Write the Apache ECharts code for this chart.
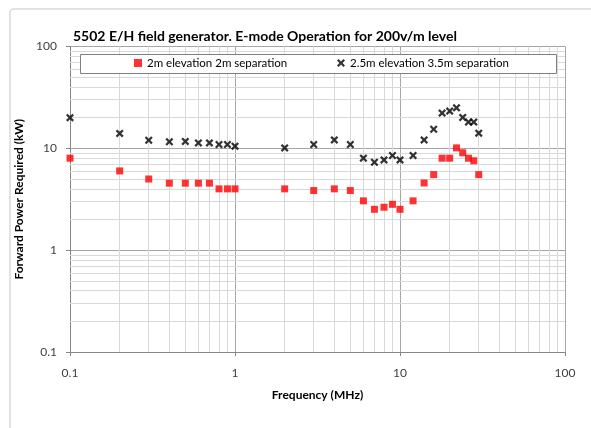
<!DOCTYPE html>
<html><head><meta charset="utf-8">
<script src="https://cdn.jsdelivr.net/npm/echarts@6/dist/echarts.min.js"></script>
<style>html,body{margin:0;padding:0;background:#fff}#c{width:591px;height:428px}</style>
</head><body><div id="c"></div>
<script>
const titleText = '5502 E/H field generator. E-mode Operation for 200v/m level';
const xTitle = 'Frequency (MHz)';
const yTitle = 'Forward Power Required (kW)';
const seriesNames = ['2m elevation 2m separation', '2.5m elevation 3.5m separation'];
const freqs = [0.1, 0.2, 0.3, 0.4, 0.5, 0.6, 0.7, 0.8, 0.9, 1, 2, 3, 4, 5, 6, 7, 8, 9, 10, 12, 14, 16, 18, 20, 22, 24, 26, 28, 30];
const red = [8, 6, 5, 4.55, 4.55, 4.55, 4.55, 4, 4, 4, 4, 3.85, 4, 3.85, 3.05, 2.52, 2.64, 2.82, 2.52, 3.05, 4.57, 5.52, 8, 8, 10.1, 9.05, 8, 7.55, 5.52];
const black = [20, 14, 12, 11.6, 11.7, 11.3, 11.3, 10.9, 10.9, 10.5, 10.1, 10.9, 12.1, 10.9, 8, 7.3, 7.7, 8.5, 7.7, 8.5, 12.1, 15.4, 22.2, 23.2, 25, 20.1, 18.1, 18.1, 14.1];
const xTickLabels = {0.1: '0.1', 1: '1', 10: '10', 100: '100'};
const yTickLabels = {0.1: '0.1', 1: '1', 10: '10', 100: '100'};
const minorValues = [0.2,0.3,0.4,0.5,0.6,0.7,0.8,0.9,2,3,4,5,6,7,8,9,20,30,40,50,60,70,80,90];

const FONT = 'Lato';
const minorStyle = {color: '#d9d9d9', width: 1, type: 'solid'};
const minorLines = [];
minorValues.forEach(v => { minorLines.push({xAxis: v}); minorLines.push({yAxis: v}); });

const chart = echarts.init(document.getElementById('c'), null, {renderer: 'canvas'});
const fmt = (map) => (v) => { for (const k in map) { if (Math.abs(Math.log10(v) - Math.log10(+k)) < 1e-6) return map[k]; } return ''; };
const xIcon = 'path://M0,2 L2,0 L5,3 L8,0 L10,2 L7,5 L10,8 L8,10 L5,7 L2,10 L0,8 L3,5 Z';

chart.setOption({
  animation: false,
  backgroundColor: '#fff',
  graphic: [{type: 'rect', shape: {x: 10, y: 9, width: 620, height: 460, r: 4}, style: {fill: 'none', stroke: '#d9d9d9', lineWidth: 1.5}, z: -1},
            {type: 'rect', shape: {x: 80.5, y: 54.5, width: 476, height: 19}, style: {fill: '#fff', stroke: '#808080', lineWidth: 1}, z: 5}],
  title: {text: titleText, left: 68, top: 24, textStyle: {fontFamily: FONT, fontSize: 14, fontWeight: 'bold', color: '#000'}},
  legend: [
    {data: [seriesNames[0]], left: 134, top: 57, itemWidth: 8, itemHeight: 8, itemGap: 5, z: 6, padding: 0,
     textStyle: {fontFamily: FONT, fontSize: 11.5, color: '#000'}},
    {data: [seriesNames[1]], left: 337, top: 57, itemWidth: 8, itemHeight: 8, itemGap: 5, z: 6, padding: 0,
     textStyle: {fontFamily: FONT, fontSize: 11.5, color: '#000'}}
  ],
  grid: {left: 70, right: 26, top: 46.5, bottom: 76, containLabel: false},
  xAxis: {type: 'log', logBase: 10, min: 0.1, max: 100,
    name: xTitle, nameLocation: 'middle', nameGap: 37,
    nameTextStyle: {fontFamily: FONT, fontSize: 12, fontWeight: 'bold', color: '#000'},
    axisLine: {lineStyle: {color: '#868686'}},
    axisTick: {show: true, length: 4, lineStyle: {color: '#868686'}},
    axisLabel: {formatter: fmt(xTickLabels), margin: 15, fontFamily: FONT, fontSize: 12, color: '#404040'},
    splitLine: {show: true, lineStyle: {color: '#a6a6a6', width: 1}},
    minorTick: {show: false}, minorSplitLine: {show: false}},
  yAxis: {type: 'log', logBase: 10, min: 0.1, max: 100,
    name: yTitle, nameLocation: 'middle', nameGap: 41,
    nameTextStyle: {fontFamily: FONT, fontSize: 12, fontWeight: 'bold', color: '#000'},
    axisLine: {show: true, lineStyle: {color: '#868686'}},
    axisTick: {show: true, length: 4, lineStyle: {color: '#868686'}},
    axisLabel: {formatter: fmt(yTickLabels), margin: 13, fontFamily: FONT, fontSize: 12, color: '#404040'},
    splitLine: {show: true, lineStyle: {color: '#a6a6a6', width: 1}},
    minorTick: {show: false}, minorSplitLine: {show: false}},
  series: [
    {name: '_grid', type: 'scatter', data: [[0.1, 0.1]], symbolSize: 0, silent: true, z: 1,
     markLine: {z: 1, silent: true, symbol: 'none', label: {show: false}, lineStyle: minorStyle, animation: false, data: minorLines}},
    {name: seriesNames[0], type: 'scatter', z: 3, symbol: 'rect', symbolSize: 7,
     itemStyle: {color: '#ff0000'}, data: freqs.map((f, i) => [f, red[i]])},
    {name: seriesNames[1], type: 'scatter', z: 3, symbol: xIcon, symbolSize: 8,
     itemStyle: {color: '#000000'}, data: freqs.map((f, i) => [f, black[i]])}
  ]
});
</script></body></html>
